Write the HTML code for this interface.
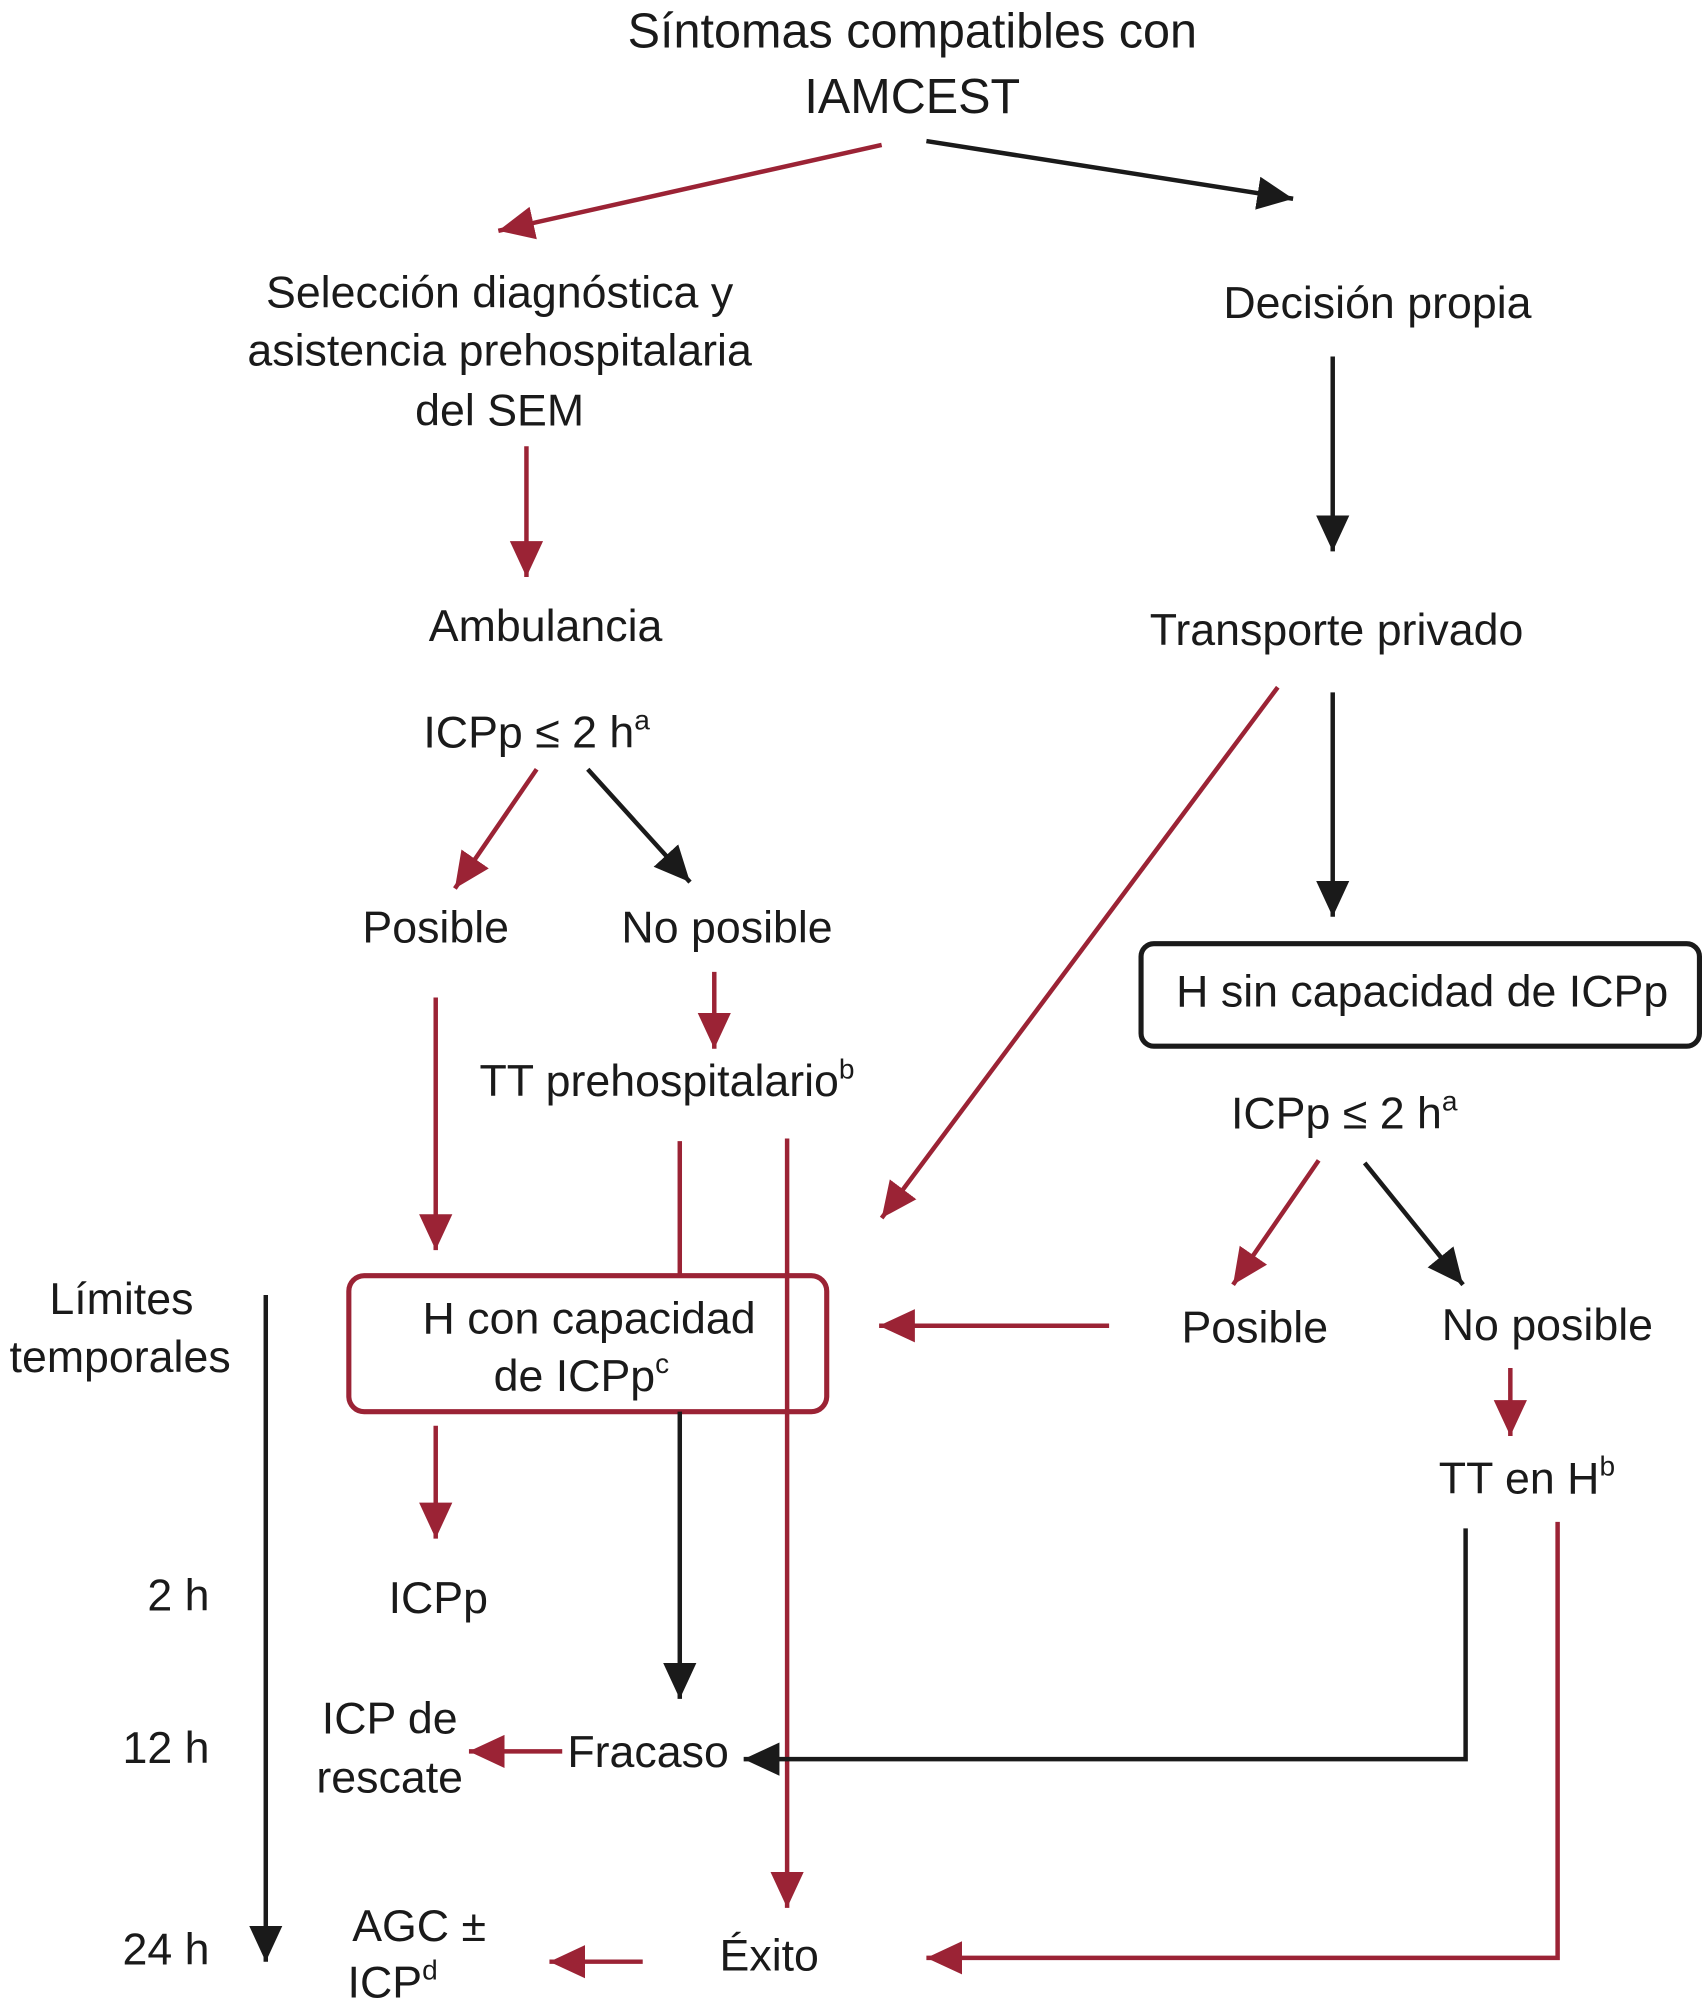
<!DOCTYPE html>
<html><head><meta charset="utf-8"><style>
html,body{margin:0;padding:0;background:#fff}
svg{display:block}
text{font-family:"Liberation Sans",sans-serif;font-size:35px;fill:#1a1a1a}
.m{text-anchor:middle}
.r{stroke:#9b2335;stroke-width:3.5;fill:none}
.k{stroke:#1a1a1a;stroke-width:3.5;fill:none}
</style></head><body>
<svg width="1702" height="2004" viewBox="0 0 1332 1563" preserveAspectRatio="none" xmlns="http://www.w3.org/2000/svg">
<defs>
<marker id="ar" markerUnits="userSpaceOnUse" markerWidth="30" markerHeight="30" viewBox="0 0 30 30" refX="28" refY="15" orient="auto"><path d="M0,2 L28,15 L0,28 Z" fill="#9b2335"/></marker>
<marker id="ak" markerUnits="userSpaceOnUse" markerWidth="30" markerHeight="30" viewBox="0 0 30 30" refX="28" refY="15" orient="auto"><path d="M0,2 L28,15 L0,28 Z" fill="#1a1a1a"/></marker>
</defs>
<text class="m" x="714" y="37" style="font-size:38px">Síntomas compatibles con</text>
<text class="m" x="714" y="88" style="font-size:38px">IAMCEST</text>
<line class="r" x1="690" y1="113" x2="390" y2="180" marker-end="url(#ar)"/>
<line class="k" x1="725" y1="110" x2="1012" y2="155" marker-end="url(#ak)"/>
<text class="m" x="391" y="240">Selección diagnóstica y</text>
<text class="m" x="391" y="285">asistencia prehospitalaria</text>
<text class="m" x="391" y="332">del SEM</text>
<text class="m" x="1078" y="248">Decisión propia</text>
<line class="r" x1="412" y1="348" x2="412" y2="450" marker-end="url(#ar)"/>
<line class="k" x1="1043" y1="278" x2="1043" y2="430" marker-end="url(#ak)"/>
<text class="m" x="427" y="500">Ambulancia</text>
<text class="m" x="1046" y="503">Transporte privado</text>
<text class="m" x="420" y="583">ICPp ≤ 2 h<tspan dy="-14" style="font-size:22px">a</tspan></text>
<line class="r" x1="420" y1="600" x2="356" y2="693" marker-end="url(#ar)"/>
<line class="k" x1="460" y1="600" x2="540" y2="688" marker-end="url(#ak)"/>
<text class="m" x="341" y="735">Posible</text>
<text class="m" x="569" y="735">No posible</text>
<line class="r" x1="1000" y1="536" x2="690" y2="950" marker-end="url(#ar)"/>
<line class="k" x1="1043" y1="540" x2="1043" y2="715" marker-end="url(#ak)"/>
<rect x="893" y="736" width="437" height="80" rx="10" fill="none" stroke="#1a1a1a" stroke-width="4"/>
<text class="m" x="1113" y="785">H sin capacidad de ICPp</text>
<line class="r" x1="341" y1="778" x2="341" y2="975" marker-end="url(#ar)"/>
<line class="r" x1="559" y1="758" x2="559" y2="818" marker-end="url(#ar)"/>
<text class="m" x="522" y="855">TT prehospitalario<tspan dy="-14" style="font-size:22px">b</tspan></text>
<line class="r" x1="532" y1="890" x2="532" y2="995"/>
<line class="r" x1="616" y1="888" x2="616" y2="1488" marker-end="url(#ar)"/>
<rect x="273" y="995" width="374" height="106" rx="12" fill="#fff" stroke="#9b2335" stroke-width="4"/>
<line class="r" x1="616" y1="995" x2="616" y2="1101"/>
<text class="m" x="461" y="1040">H con capacidad</text>
<text class="m" x="455" y="1085">de ICPp<tspan dy="-14" style="font-size:22px">c</tspan></text>
<text class="m" x="1052" y="880">ICPp ≤ 2 h<tspan dy="-14" style="font-size:22px">a</tspan></text>
<line class="r" x1="1032" y1="905" x2="965" y2="1002" marker-end="url(#ar)"/>
<line class="k" x1="1068" y1="907" x2="1145" y2="1002" marker-end="url(#ak)"/>
<text class="m" x="982" y="1047">Posible</text>
<text class="m" x="1211" y="1045">No posible</text>
<line class="r" x1="868" y1="1034" x2="688" y2="1034" marker-end="url(#ar)"/>
<line class="r" x1="1182" y1="1067" x2="1182" y2="1120" marker-end="url(#ar)"/>
<text class="m" x="1195" y="1165">TT en H<tspan dy="-14" style="font-size:22px">b</tspan></text>
<text class="m" x="95" y="1025">Límites</text>
<text class="m" x="94" y="1070">temporales</text>
<line class="k" x1="208" y1="1010" x2="208" y2="1530" marker-end="url(#ak)"/>
<line class="r" x1="341" y1="1112" x2="341" y2="1200" marker-end="url(#ar)"/>
<text class="m" x="343" y="1258">ICPp</text>
<text x="164" y="1256" style="text-anchor:end">2 h</text>
<line class="k" x1="532" y1="1101" x2="532" y2="1325" marker-end="url(#ak)"/>
<text x="164" y="1375" style="text-anchor:end">12 h</text>
<text class="m" x="305" y="1352">ICP de</text>
<text class="m" x="305" y="1398">rescate</text>
<line class="r" x1="440" y1="1366" x2="367" y2="1366" marker-end="url(#ar)"/>
<text x="444" y="1378">Fracaso</text>
<polyline class="k" points="1147,1192 1147,1372 582,1372" marker-end="url(#ak)"/>
<text x="164" y="1532" style="text-anchor:end">24 h</text>
<text class="m" x="328" y="1514">AGC ±</text>
<text x="272" y="1558">ICP<tspan dy="-14" style="font-size:22px">d</tspan></text>
<line class="r" x1="503" y1="1530" x2="430" y2="1530" marker-end="url(#ar)"/>
<text class="m" x="602" y="1537">Éxito</text>
<polyline class="r" points="1219,1187 1219,1527 725,1527" marker-end="url(#ar)"/>
</svg>
</body></html>
